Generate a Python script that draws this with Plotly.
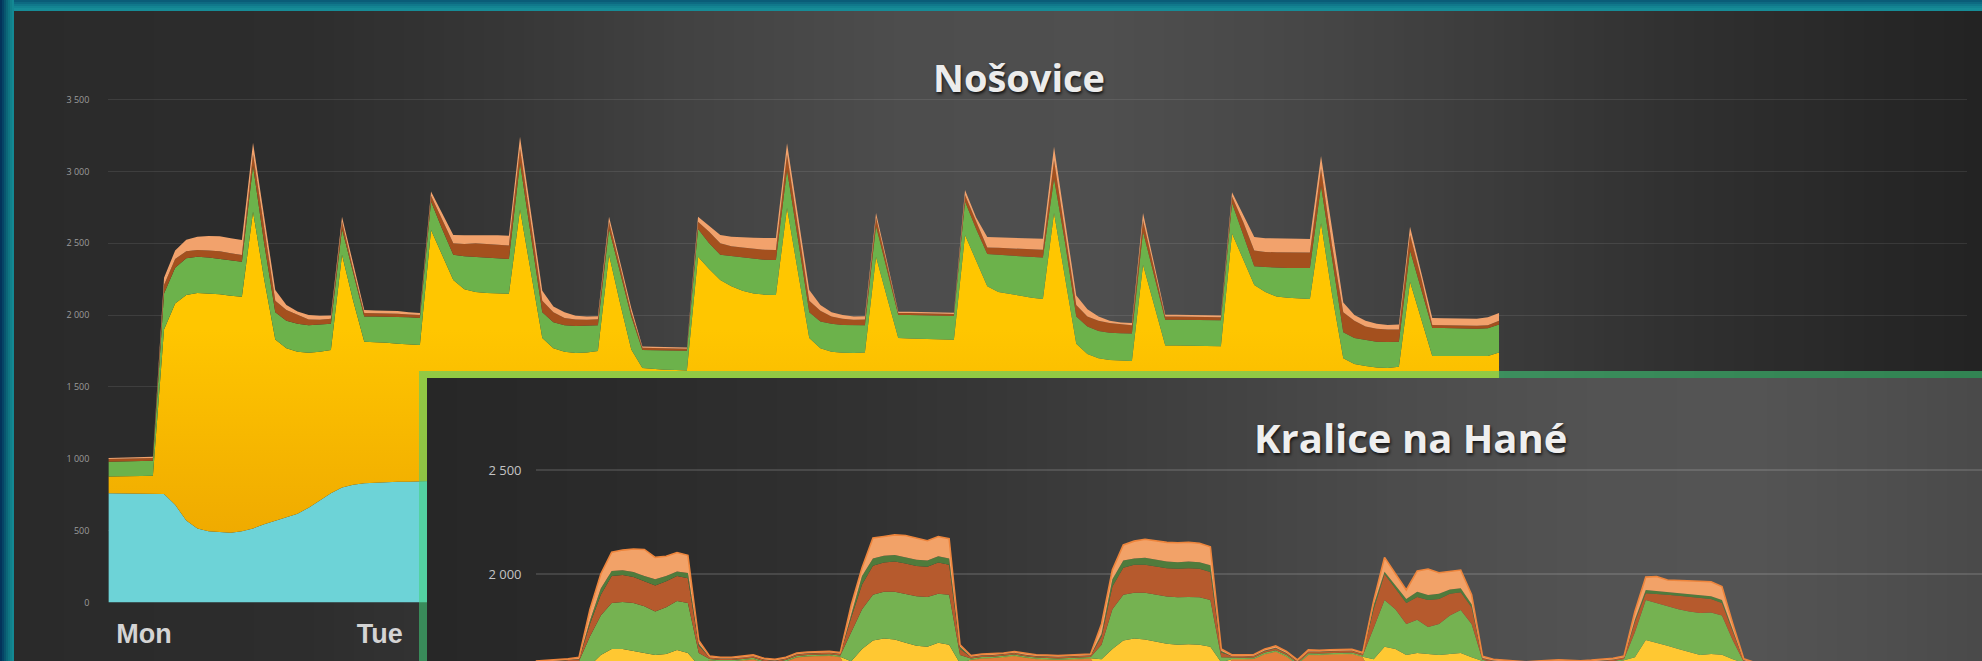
import plotly.graph_objects as go

W, H = 1982, 661

# ---------------------------------------------------------------------------
# Nošovice - hourly stacked load, Mon 00:00 .. Sat 05:00 (cumulative levels)
# ---------------------------------------------------------------------------
nos_hours = list(range(126))
nos_day_ticks = [3.2, 24.4, 48.4, 72.4, 96.4]
nos_day_labels = ["Mon", "Tue", "Wed", "Thu", "Fri"]
nos_y_ticks = [0, 500, 1000, 1500, 2000, 2500, 3000, 3500]
nos_y_labels = ["0", "500", "1 000", "1 500", "2 000", "2 500", "3 000", "3 500"]

nos_cyan = [
    760, 760, 760, 759, 758, 755, 680, 570, 515, 495,
    490, 486, 495, 515, 545, 570, 595, 618, 660, 710,
    760, 800, 820, 830, 835, 838, 840, 841, 842, 845,
    850, 855, 852, 848, 845, 842, 840, 843, 846, 850,
    852, 855, 858, 860, 862, 860, 858, 856, 855, 853,
    852, 850, 848, 850, 855, 858, 855, 850, 846, 842,
    840, 842, 845, 848, 852, 856, 860, 862, 864, 862,
    860, 858, 856, 855, 853, 852, 850, 852, 856, 858,
    855, 850, 846, 843, 840, 842, 845, 849, 853, 857,
    860, 862, 863, 862, 860, 858, 856, 855, 853, 852,
    850, 853, 857, 859, 856, 851, 847, 844, 841, 843,
    846, 850, 854, 858, 861, 863, 864, 862, 860, 858,
    856, 855, 854, 853, 852, 851,
]
nos_yellow = [
    876, 876, 878, 880, 882, 1900, 2080, 2140, 2154, 2150,
    2145, 2135, 2128, 2720, 2250, 1830, 1770, 1745, 1738, 1745,
    1757, 2420, 2100, 1815, 1812, 1808, 1800, 1795, 1792, 2592,
    2420, 2244, 2180, 2160, 2154, 2150, 2148, 2735, 2300, 1840,
    1770, 1745, 1736, 1740, 1750, 2420, 2080, 1760, 1632, 1625,
    1620, 1618, 1615, 2406, 2320, 2244, 2200, 2170, 2150, 2142,
    2140, 2745, 2290, 1840, 1770, 1745, 1738, 1736, 1740, 2406,
    2120, 1840, 1838, 1835, 1832, 1830, 1828, 2557, 2380, 2200,
    2160, 2150, 2135, 2120, 2112, 2711, 2270, 1800, 1730, 1700,
    1688, 1682, 1680, 2351, 2070, 1789, 1789, 1788, 1786, 1785,
    1784, 2568, 2390, 2210, 2160, 2130, 2120, 2115, 2112, 2641,
    2140, 1700, 1660, 1645, 1635, 1632, 1640, 2232, 1980, 1715,
    1715, 1714, 1712, 1712, 1715, 1740,
]
nos_green = [
    980, 982, 983, 985, 986, 2150, 2330, 2395, 2406, 2400,
    2392, 2380, 2372, 3040, 2500, 2020, 1960, 1940, 1930, 1935,
    1940, 2600, 2290, 1990, 1990, 1990, 1988, 1985, 1980, 2790,
    2600, 2420, 2410, 2406, 2400, 2395, 2390, 3060, 2540, 2020,
    1950, 1930, 1925, 1925, 1930, 2600, 2300, 1990, 1757, 1757,
    1756, 1755, 1752, 2600, 2500, 2420, 2410, 2400, 2390, 2385,
    2383, 3010, 2520, 2020, 1955, 1940, 1932, 1931, 1930, 2620,
    2310, 2001, 2000, 2000, 1998, 1995, 1993, 2790, 2600, 2425,
    2420, 2415, 2410, 2405, 2400, 2951, 2500, 1990, 1920, 1890,
    1878, 1873, 1872, 2580, 2270, 1968, 1968, 1967, 1966, 1965,
    1964, 2780, 2560, 2340, 2335, 2330, 2328, 2328, 2328, 2900,
    2380, 1880, 1840, 1825, 1815, 1813, 1815, 2450, 2180, 1910,
    1910, 1908, 1906, 1905, 1908, 1935,
]
nos_brown = [
    998, 1000, 1002, 1004, 1006, 2210, 2390, 2445, 2453, 2450,
    2445, 2430, 2418, 3120, 2600, 2100, 2035, 2000, 1970, 1968,
    1975, 2650, 2320, 2015, 2015, 2012, 2010, 2005, 2000, 2830,
    2660, 2500, 2495, 2500, 2495, 2490, 2485, 3160, 2630, 2100,
    2020, 1980, 1970, 1968, 1972, 2650, 2340, 2020, 1772, 1770,
    1769, 1768, 1765, 2650, 2580, 2500, 2480, 2470, 2460, 2455,
    2453, 3120, 2610, 2100, 2030, 1990, 1975, 1968, 1970, 2680,
    2350, 2015, 2014, 2013, 2012, 2010, 2008, 2835, 2650, 2471,
    2468, 2465, 2462, 2460, 2455, 3080, 2580, 2070, 1990, 1960,
    1945, 1935, 1930, 2660, 2320, 1990, 1990, 1989, 1988, 1987,
    1985, 2825, 2650, 2450, 2440, 2437, 2435, 2435, 2435, 3020,
    2480, 2020, 1960, 1920, 1905, 1900, 1900, 2560, 2260, 1931,
    1930, 1928, 1926, 1926, 1930, 1960,
]
nos_total = [
    1006, 1008, 1010, 1012, 1015, 2260, 2450, 2525, 2546, 2550,
    2548, 2535, 2523, 3200, 2690, 2175, 2070, 2025, 2000, 1995,
    1998, 2685, 2360, 2035, 2032, 2030, 2028, 2020, 2015, 2860,
    2710, 2557, 2555, 2557, 2556, 2555, 2552, 3241, 2710, 2170,
    2060, 2020, 1995, 1990, 1992, 2685, 2370, 2050, 1781, 1780,
    1778, 1776, 1775, 2685, 2620, 2557, 2545, 2540, 2538, 2536,
    2536, 3196, 2690, 2175, 2070, 2020, 2000, 1990, 1992, 2710,
    2370, 2024, 2024, 2022, 2020, 2018, 2016, 2870, 2680, 2543,
    2540, 2538, 2536, 2535, 2532, 3172, 2650, 2136, 2040, 1990,
    1960, 1948, 1945, 2711, 2357, 2003, 2003, 2002, 2001, 2000,
    1998, 2855, 2700, 2543, 2535, 2532, 2531, 2531, 2530, 3107,
    2600, 2088, 2000, 1960, 1940, 1931, 1935, 2615, 2300, 1980,
    1978, 1976, 1975, 1975, 1985, 2014,
]

# ---------------------------------------------------------------------------
# Kralice na Hané - hourly stacked load (cumulative levels)
# ---------------------------------------------------------------------------
kra_hours = list(range(126))
kra_y_ticks = [1500, 2000, 2500]
kra_y_labels = ["1 500", "2 000", "2 500"]

kra_base = [
    1560, 1563, 1566, 1570, 1576, 1500, 1480, 1470, 1470, 1470,
    1470, 1470, 1470, 1470, 1470, 1520, 1583, 1578, 1578, 1583,
    1589, 1573, 1568, 1578, 1598, 1603, 1603, 1606, 1600, 1500,
    1480, 1470, 1470, 1470, 1470, 1470, 1470, 1470, 1470, 1520,
    1586, 1593, 1594, 1598, 1605, 1596, 1590, 1588, 1586, 1588,
    1591, 1593, 1520, 1480, 1470, 1470, 1470, 1470, 1470, 1470,
    1470, 1470, 1470, 1530, 1589, 1589, 1591, 1613, 1625, 1601,
    1565, 1610, 1609, 1612, 1612, 1614, 1600, 1500, 1470, 1470,
    1470, 1470, 1470, 1470, 1470, 1470, 1480, 1580, 1568, 1563,
    1558, 1556, 1560, 1564, 1566, 1563, 1561, 1564, 1568, 1573,
    1583, 1500, 1470, 1470, 1470, 1470, 1470, 1470, 1470, 1470,
    1500, 1570, 1553, 1548, 1546, 1544, 1543, 1544, 1546, 1548,
    1546, 1544, 1543, 1542, 1541, 1540,
]
kra_yellow = [
    1562, 1565, 1568, 1572, 1578, 1560, 1610, 1640, 1640, 1630,
    1620, 1610, 1615, 1635, 1620, 1560, 1585, 1580, 1580, 1585,
    1591, 1575, 1570, 1580, 1600, 1605, 1605, 1608, 1602, 1580,
    1640, 1680, 1690, 1685, 1670, 1655, 1650, 1670, 1660, 1570,
    1588, 1595, 1596, 1600, 1607, 1598, 1592, 1590, 1588, 1590,
    1593, 1595, 1590, 1640, 1680, 1690, 1685, 1675, 1665, 1660,
    1662, 1660, 1650, 1575, 1591, 1591, 1593, 1615, 1627, 1603,
    1567, 1612, 1611, 1614, 1614, 1616, 1602, 1590, 1650, 1640,
    1610, 1620, 1615, 1610, 1615, 1620, 1600, 1582, 1570, 1565,
    1560, 1558, 1562, 1566, 1568, 1565, 1563, 1566, 1570, 1575,
    1585, 1600, 1683, 1670, 1655, 1640, 1625, 1611, 1615, 1612,
    1590, 1572, 1555, 1550, 1548, 1546, 1545, 1546, 1548, 1550,
    1548, 1546, 1545, 1544, 1543, 1542,
]
kra_green = [
    1568, 1571, 1574, 1578, 1582, 1700, 1800, 1860, 1865, 1860,
    1845, 1820, 1840, 1870, 1860, 1620, 1591, 1586, 1586, 1591,
    1597, 1581, 1576, 1586, 1606, 1611, 1611, 1614, 1608, 1720,
    1830, 1900, 1915, 1915, 1905, 1893, 1890, 1905, 1900, 1610,
    1594, 1601, 1602, 1606, 1613, 1604, 1598, 1596, 1594, 1596,
    1599, 1601, 1660, 1830, 1900, 1910, 1910, 1900, 1892, 1888,
    1890, 1888, 1875, 1600, 1597, 1597, 1599, 1622, 1634, 1610,
    1573, 1619, 1618, 1621, 1621, 1623, 1608, 1740, 1875, 1830,
    1760, 1780, 1745, 1760, 1800, 1827, 1760, 1588, 1576, 1571,
    1566, 1564, 1568, 1572, 1574, 1571, 1569, 1572, 1576, 1581,
    1591, 1720, 1875, 1860, 1845, 1830, 1820, 1812, 1815, 1800,
    1680, 1578, 1561, 1556, 1554, 1552, 1551, 1552, 1554, 1556,
    1554, 1552, 1551, 1550, 1549, 1548,
]
kra_brown = [
    1575, 1578, 1581, 1585, 1590, 1760, 1900, 1990, 1995, 1985,
    1965, 1945, 1965, 1990, 1980, 1655, 1598, 1593, 1593, 1598,
    1604, 1588, 1583, 1593, 1613, 1618, 1618, 1621, 1615, 1790,
    1950, 2040, 2055, 2060, 2050, 2038, 2035, 2055, 2045, 1640,
    1601, 1608, 1609, 1613, 1620, 1611, 1605, 1603, 1601, 1603,
    1606, 1608, 1700, 1940, 2030, 2045, 2045, 2035, 2028, 2025,
    2028, 2025, 2010, 1622, 1604, 1604, 1606, 1630, 1643, 1618,
    1580, 1627, 1626, 1629, 1629, 1631, 1615, 1830, 2000, 1930,
    1860, 1890, 1875, 1880, 1905, 1912, 1840, 1595, 1583, 1578,
    1573, 1571, 1575, 1579, 1581, 1578, 1576, 1579, 1583, 1588,
    1598, 1770, 1908, 1905, 1900, 1895, 1890, 1885, 1880, 1860,
    1720, 1585, 1568, 1563, 1561, 1559, 1558, 1559, 1561, 1563,
    1561, 1559, 1558, 1557, 1556, 1555,
]
kra_dkgreen = [
    1576, 1579, 1582, 1586, 1591, 1775, 1930, 2015, 2018, 2010,
    1990, 1975, 1990, 2012, 2005, 1665, 1599, 1594, 1594, 1599,
    1605, 1589, 1584, 1594, 1614, 1619, 1619, 1622, 1616, 1810,
    1990, 2075, 2088, 2091, 2080, 2068, 2065, 2085, 2075, 1650,
    1602, 1609, 1610, 1614, 1621, 1612, 1606, 1604, 1602, 1604,
    1607, 1609, 1712, 1975, 2065, 2075, 2078, 2068, 2060, 2057,
    2060, 2057, 2042, 1630, 1605, 1605, 1607, 1632, 1645, 1620,
    1581, 1628, 1627, 1630, 1630, 1632, 1616, 1850, 2011, 1945,
    1880, 1915, 1899, 1905, 1925, 1932, 1855, 1596, 1584, 1579,
    1574, 1572, 1576, 1580, 1582, 1579, 1577, 1580, 1584, 1589,
    1599, 1780, 1923, 1918, 1913, 1908, 1903, 1898, 1893, 1875,
    1728, 1586, 1569, 1564, 1562, 1560, 1559, 1560, 1562, 1564,
    1562, 1560, 1559, 1558, 1557, 1556,
]
kra_total = [
    1582, 1585, 1588, 1592, 1600, 1830, 2000, 2105, 2115, 2120,
    2118, 2080, 2085, 2103, 2090, 1680, 1605, 1600, 1600, 1605,
    1611, 1595, 1590, 1600, 1620, 1625, 1625, 1628, 1622, 1850,
    2030, 2173, 2180, 2188, 2185, 2173, 2160, 2180, 2170, 1660,
    1608, 1615, 1616, 1620, 1627, 1618, 1612, 1610, 1608, 1610,
    1613, 1615, 1760, 2020, 2140, 2158, 2167, 2160, 2152, 2150,
    2153, 2148, 2131, 1640, 1611, 1611, 1613, 1640, 1654, 1628,
    1587, 1635, 1633, 1636, 1636, 1638, 1622, 1870, 2080, 2000,
    1923, 2015, 2024, 2006, 2012, 2019, 1900, 1605, 1590, 1585,
    1580, 1578, 1582, 1586, 1588, 1585, 1583, 1586, 1590, 1595,
    1605, 1820, 1985, 1988, 1971, 1968, 1966, 1965, 1963, 1940,
    1760, 1592, 1575, 1570, 1568, 1566, 1565, 1566, 1568, 1570,
    1568, 1566, 1565, 1564, 1563, 1562,
]


# ---------------------------------------------------------------------------
# helpers for pixel-based layout geometry
# ---------------------------------------------------------------------------
def px(x):
    return x / W


def py(y):
    return (H - y) / H


def gray_at(stops, x):
    for (x0, g0), (x1, g1) in zip(stops, stops[1:]):
        if x0 <= x <= x1:
            return g0 + (g1 - g0) * (x - x0) / (x1 - x0)
    return stops[-1][1] if x > stops[-1][0] else stops[0][1]


def gradient_strips(x_from, x_to, y_from, y_to, stops, xref, yref, conv, step=10, pad=0):
    out = []
    x = x_from
    while x < x_to:
        x_next = min(x + step, x_to)
        g = round(gray_at(stops, (x + x_next) / 2))
        xa = x
        xb = x_next + 1 if x_next < x_to else x_to + pad
        if conv:
            out.append(dict(type="rect", xref=xref, yref=yref,
                            x0=px(xa), x1=px(xb), y0=py(y_to + pad), y1=py(y_from),
                            fillcolor=f"rgb({g},{g},{g})", line=dict(width=0), layer="below"))
        else:
            out.append(dict(type="rect", xref=xref, yref=yref,
                            x0=xa, x1=xb, y0=y_from, y1=y_to + pad,
                            fillcolor=f"rgb({g},{g},{g})", line=dict(width=0), layer="below"))
        x = x_next
    return out


shapes = []

# outer teal frame (left band and top band)
frame_left = ["#03335a", "#054466", "#08566f", "#0b6778", "#0e7582", "#11808b", "#138893"]
for i, c in enumerate(frame_left):
    shapes.append(dict(type="rect", xref="paper", yref="paper",
                       x0=px(i * 2), x1=px(i * 2 + 3), y0=-0.05, y1=1,
                       fillcolor=c, line=dict(width=0), layer="below"))
frame_top = ["#0a5c78", "#0d6a82", "#10788b", "#138492", "#168c97"]
for i, c in enumerate(frame_top):
    shapes.append(dict(type="rect", xref="paper", yref="paper",
                       x0=px(14), x1=1.05, y0=py(i * 2 + 3), y1=py(i * 2),
                       fillcolor=c, line=dict(width=0), layer="below"))

# rear panel background
rear_stops = [(14, 42), (300, 45), (500, 54), (700, 67), (900, 77), (1100, 79),
              (1300, 71), (1500, 59), (1700, 47), (1900, 38), (1982, 35)]
shapes += gradient_strips(14, 1982, 11, 661, rear_stops, "paper", "paper", True, pad=20)

# front panel (drawn on its own overlay subplot so it hides the rear chart)
PANEL_TOP = 378
front_stops = [(427, 39), (600, 42), (800, 47), (1000, 55), (1200, 65),
               (1400, 76), (1600, 83), (1750, 84), (1900, 78), (1982, 74)]
shapes += gradient_strips(427, 1982, PANEL_TOP, 661, front_stops, "x2", "y2", False, pad=20)
glow = "rgba(62,208,122,0.56)"
shapes.append(dict(type="rect", xref="x2", yref="y2", x0=419, x1=2000,
                   y0=PANEL_TOP - 7, y1=PANEL_TOP,
                   fillcolor=glow, line=dict(width=0), layer="below"))
shapes.append(dict(type="rect", xref="x2", yref="y2", x0=419, x1=427,
                   y0=PANEL_TOP, y1=680,
                   fillcolor=glow, line=dict(width=0), layer="below"))

fig = go.Figure()

# ---------------- rear chart traces ----------------
nos_series = [
    ("cyan", nos_cyan, "#6dd3d7"),
    ("yellow", nos_yellow, "#ffc300"),
    ("green", nos_green, "#6cb24b"),
    ("brown", nos_brown, "#a4501e"),
    ("salmon", nos_total, "#f2a26c"),
]
for i, (name, vals, col) in enumerate(nos_series):
    extra = {}
    if name == "yellow":
        extra["fillgradient"] = dict(type="vertical", start=450, stop=1900,
                                     colorscale=[[0, "#efaa00"], [1, "#ffc600"]])
    fig.add_trace(go.Scatter(
        x=nos_hours, y=vals, name=name, mode="lines",
        line=dict(width=0, color=col), fill="tozeroy" if i == 0 else "tonexty",
        fillcolor=col, hoverinfo="skip", showlegend=False,
        xaxis="x", yaxis="y", **extra))

# overlay panel subplot (holds only the panel background)
fig.add_trace(go.Scatter(x=[], y=[], xaxis="x2", yaxis="y2", showlegend=False,
                         hoverinfo="skip"))

# ---------------- front chart traces ----------------
kra_series = [
    ("base", kra_base, "#e37d38", 0),
    ("yellow", kra_yellow, "#ffc832", 0),
    ("green", kra_green, "#75b251", 0),
    ("brown", kra_brown, "#b65a2d", 0),
    ("dkgreen", kra_dkgreen, "#4f7b3c", 0),
    ("salmon", kra_total, "#f2a268", 1.6),
]
for i, (name, vals, col, lw) in enumerate(kra_series):
    fig.add_trace(go.Scatter(
        x=kra_hours, y=vals, name=name, mode="lines",
        line=dict(width=lw, color="#ee853c" if lw else col),
        fill="tozeroy" if i == 0 else "tonexty",
        fillcolor=col, hoverinfo="skip", showlegend=False,
        xaxis="x3", yaxis="y3"))

# ---------------- titles ----------------
annotations = [
    dict(text="Nošovice", x=px(1019), y=py(77), xref="paper", yref="paper",
         xanchor="center", yanchor="middle", showarrow=False,
         font=dict(family="Open Sans", size=38, color="#ececec", weight="bold",
                   shadow="1px 2px 3px rgba(0,0,0,0.75)")),
    dict(text="Kralice na Hané", x=px(1410), y=py(437), xref="paper", yref="paper",
         xanchor="center", yanchor="middle", showarrow=False,
         font=dict(family="Open Sans", size=40, color="#efefef", weight="bold",
                   shadow="1px 2px 3px rgba(0,0,0,0.75)")),
]

rear_x0, rear_x1, rear_px_per_h = 108.4, 1967, 11.125
front_x0, front_px_per_h = 535.5, 10.885
rear_zero_y, rear_px_per_unit = 602.5, 0.1437
front_2000_y, front_px_per_unit = 574, 0.208

fig.update_layout(
    template="none",
    width=W, height=H, autosize=False,
    margin=dict(l=0, r=0, t=0, b=0, pad=0, autoexpand=False),
    paper_bgcolor="#3a3a3a", plot_bgcolor="rgba(0,0,0,0)",
    showlegend=False, shapes=shapes, annotations=annotations,
    xaxis=dict(domain=[px(rear_x0), px(rear_x1)],
               range=[0, (rear_x1 - rear_x0) / rear_px_per_h], automargin=False,
               showgrid=False, zeroline=False, showline=False, ticks="",
               tickvals=nos_day_ticks, ticktext=nos_day_labels,
               tickfont=dict(family="Liberation Sans", size=27, color="#d4d4d4", weight="bold"),
               ticklabelstandoff=12, anchor="y", fixedrange=True),
    yaxis=dict(domain=[py(rear_zero_y), py(rear_zero_y - 3520 * rear_px_per_unit)],
               range=[0, 3520], automargin=False,
               showgrid=True, gridcolor="rgba(255,255,255,0.09)", gridwidth=1,
               zeroline=False, showline=False, ticks="",
               tickvals=nos_y_ticks, ticktext=nos_y_labels,
               tickfont=dict(family="Open Sans", size=9, color="#9c9c9c"),
               ticklabelstandoff=18, anchor="x", fixedrange=True),
    xaxis2=dict(domain=[px(419), 1], range=[419, 1982], visible=True, automargin=False,
                showgrid=False, zeroline=False, showline=False, showticklabels=False,
                ticks="", anchor="y2", fixedrange=True),
    yaxis2=dict(domain=[0, py(PANEL_TOP - 7)], range=[661, PANEL_TOP - 7], visible=True,
                automargin=False,
                showgrid=False, zeroline=False, showline=False, showticklabels=False,
                ticks="", anchor="x2", fixedrange=True),
    xaxis3=dict(domain=[px(front_x0), 1], automargin=False,
                range=[0, (W - front_x0) / front_px_per_h],
                showgrid=False, zeroline=False, showline=False, showticklabels=False,
                ticks="", anchor="y3", fixedrange=True),
    yaxis3=dict(domain=[0, py(440)], automargin=False,
                range=[2000 - (H - front_2000_y) / front_px_per_unit,
                       2000 + (front_2000_y - 440) / front_px_per_unit],
                showgrid=True, gridcolor="rgba(255,255,255,0.13)", gridwidth=1.5,
                zeroline=False, showline=False, ticks="",
                tickvals=kra_y_ticks, ticktext=kra_y_labels,
                tickfont=dict(family="Open Sans", size=13, color="#c4c4c4"),
                ticklabelstandoff=13, anchor="x3", fixedrange=True),
)

fig.write_html("out.html", config={"displayModeBar": False, "staticPlot": True})
